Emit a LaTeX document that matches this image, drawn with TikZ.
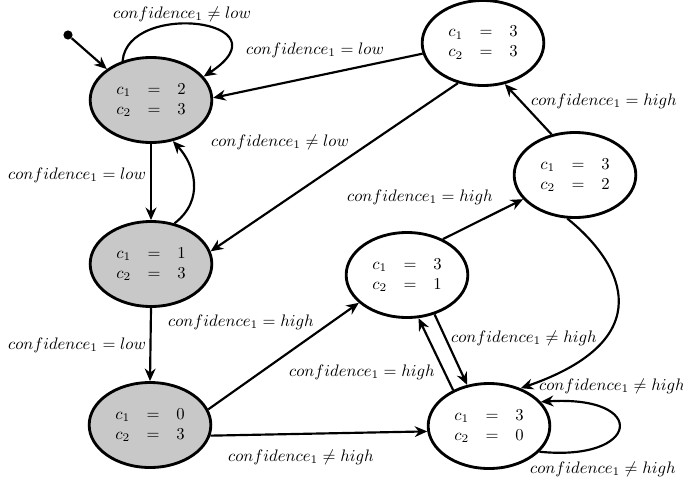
\documentclass[tikz,border=0pt]{standalone}
\usetikzlibrary{arrows.meta,shapes.geometric}
\definecolor{stgray}{RGB}{200,200,200}
\begin{document}
\begin{tikzpicture}[x=0.6pt,y=-0.6pt,
  state/.style={ellipse, draw, line width=1.7pt, minimum width=73pt, minimum height=51pt, inner sep=0pt},
  done/.style={state, fill=stgray},
  arr/.style={-{Stealth[length=7.5pt,width=6.5pt]}, line width=1.3pt},
  lbl/.style={inner sep=1pt}]
\useasboundingbox (0,0) rectangle (683,487);
% states
\node[done]  (A) at (151,100) {$\begin{array}{rcl} c_1 & = & 2\\ c_2 & = & 3\end{array}$};
\node[done]  (B) at (151,264) {$\begin{array}{rcl} c_1 & = & 1\\ c_2 & = & 3\end{array}$};
\node[done]  (C) at (150,425) {$\begin{array}{rcl} c_1 & = & 0\\ c_2 & = & 3\end{array}$};
\node[state] (D) at (483,43)  {$\begin{array}{rcl} c_1 & = & 3\\ c_2 & = & 3\end{array}$};
\node[state] (E) at (575,175) {$\begin{array}{rcl} c_1 & = & 3\\ c_2 & = & 2\end{array}$};
\node[state] (F) at (407,275) {$\begin{array}{rcl} c_1 & = & 3\\ c_2 & = & 1\end{array}$};
\node[state] (G) at (489,426) {$\begin{array}{rcl} c_1 & = & 3\\ c_2 & = & 0\end{array}$};
% initial
\node[circle, fill, inner sep=0pt, minimum size=5.5pt] (init) at (68,35) {};
\draw[arr] (init) -- (A.145);
% edges
\draw[arr] (A.126) .. controls (128,0) and (290,20) .. (A.24);
\draw[arr] (D.190) -- (A.2);
\draw[arr] (D.238) -- (B.12);
\draw[arr] (A.south) -- (B.north);
\draw[arr] (B.60) .. controls (205,200) and (195,165) .. (A.-62);
\draw[arr] (B.south) -- (C.north);
\draw[arr] (C.15) -- (F.210);
\draw[arr] (C.-10) -- (G.185);
\draw[arr] (F.45) -- (E.205);
\draw[arr] (E.120) -- (D.-62);
\draw[arr] (E.-100) .. controls (625,265) and (660,340) .. (G.50);
\draw[arr] (F.-55) -- (G.118);
\draw[arr] (G.135) -- (F.-75);
\draw[arr] (G.-27) .. controls (640,462) and (650,395) .. (G.25);
% labels
\node[lbl] (l1)  at (182,14)  {$confidence_1 \neq low$};
\node[lbl] (l2)  at (315,50)  {$confidence_1 = low$};
\node[lbl] (l3)  at (280,142) {$confidence_1 \neq low$};
\node[lbl] (l4)  at (77,175)  {$confidence_1 = low$};
\node[lbl] (l5)  at (77,345)  {$confidence_1 = low$};
\node[lbl] (l6)  at (241,322) {$confidence_1 = high$};
\node[lbl] (l7)  at (420,197) {$confidence_1 = high$};
\node[lbl] (l8)  at (604,101) {$confidence_1 = high$};
\node[lbl] (l9)  at (524,338) {$confidence_1 \neq high$};
\node[lbl] (l10) at (362,372) {$confidence_1 = high$};
\node[lbl] (l11) at (612,386) {$confidence_1 \neq high$};
\node[lbl] (l12) at (603,469) {$confidence_1 \neq high$};
\node[lbl] (l13) at (301,457) {$confidence_1 \neq high$};
\end{tikzpicture}
\end{document}
